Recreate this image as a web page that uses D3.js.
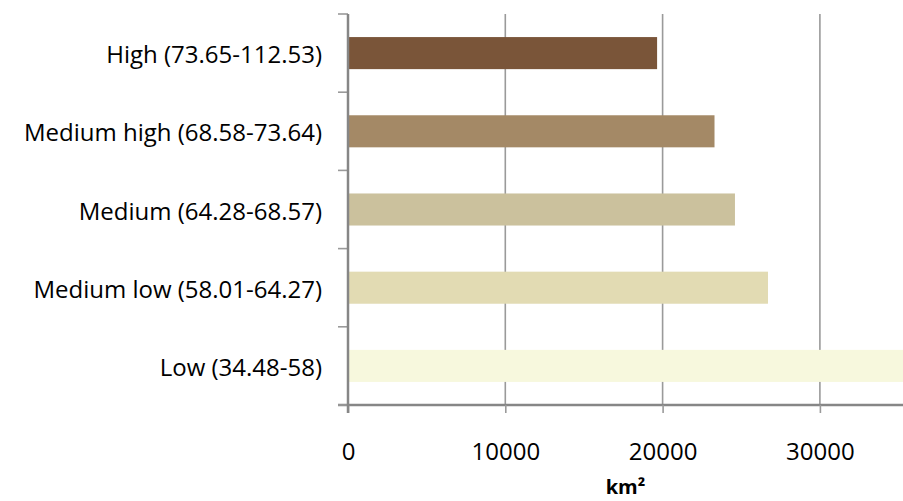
<!DOCTYPE html>
<html>
<head>
<meta charset="utf-8">
<script src="https://cdn.jsdelivr.net/npm/d3@7"></script>
<style>
  html, body { margin: 0; padding: 0; background: #fff; }
  svg { display: block; }
  text { font-family: "Open Sans", sans-serif; fill: #000; }
</style>
</head>
<body>
<svg id="chart" width="903" height="501"></svg>
<script>
const categories = [
  "High (73.65-112.53)",
  "Medium high (68.58-73.64)",
  "Medium (64.28-68.57)",
  "Medium low (58.01-64.27)",
  "Low (34.48-58)"
];
const values = [19650, 23300, 24600, 26700, 36000];
const colors = ["#7a5539", "#a48966", "#cbc19d", "#e2dbb3", "#f7f8dd"];
const xTicks = [0, 10000, 20000, 30000];
const axisTitle = "km²";

(function () {
const svg = d3.select("#chart");
const W = 903, H = 501;
const mLeft = 348, mTop = 14, mBottom = 405;
const FONT = "'Open Sans', sans-serif";

const x = d3.scaleLinear().domain([0, 40000]).range([mLeft, mLeft + 4 * 157.3]);
const y = d3.scaleBand().domain(categories).range([mTop, mBottom]).paddingInner(0.59).paddingOuter(0.295);

// gridlines
svg.append("g").selectAll("line").data(xTicks.filter(d => d > 0)).join("line")
  .attr("x1", d => x(d)).attr("x2", d => x(d))
  .attr("y1", mTop).attr("y2", mBottom)
  .attr("stroke", "#9a9a9a").attr("stroke-width", 1.6);

// bars
svg.append("g").selectAll("rect").data(categories).join("rect")
  .attr("x", x(0))
  .attr("y", d => y(d))
  .attr("width", (d, i) => x(values[i]) - x(0))
  .attr("height", y.bandwidth())
  .attr("fill", (d, i) => colors[i]);

// x axis
const xAxis = svg.append("g").attr("transform", `translate(0,${mBottom})`)
  .call(d3.axisBottom(x).tickValues(xTicks).tickFormat(d3.format("d")).tickSize(8).tickSizeOuter(0));
xAxis.select(".domain").attr("stroke", "#868686").attr("stroke-width", 2.5)
  .attr("d", `M${mLeft - 10},0H${W}`);
xAxis.selectAll(".tick line").attr("stroke", "#9a9a9a").attr("stroke-width", 1.6);
xAxis.selectAll(".tick text")
  .attr("font-size", 24).attr("font-family", FONT).attr("fill", "#000")
  .attr("y", 55).attr("dy", null);

// y axis
const yBoundaries = d3.range(categories.length + 1).map(i => mTop + i * (mBottom - mTop) / categories.length);
svg.append("g").selectAll("line").data(yBoundaries).join("line")
  .attr("x1", mLeft - 10).attr("x2", mLeft)
  .attr("y1", d => d).attr("y2", d => d)
  .attr("stroke", "#9a9a9a").attr("stroke-width", 1.6);
svg.append("line")
  .attr("x1", mLeft).attr("x2", mLeft).attr("y1", mTop).attr("y2", mBottom + 8)
  .attr("stroke", "#868686").attr("stroke-width", 2.5);

// y labels
svg.append("g").selectAll("text").data(categories).join("text")
  .attr("x", 322)
  .attr("y", d => y(d) + y.bandwidth() / 2 + 10)
  .attr("text-anchor", "end")
  .attr("font-size", 24)
  .text(d => d);

// axis title
svg.append("text")
  .attr("x", (mLeft + W) / 2)
  .attr("y", 494)
  .attr("text-anchor", "middle")
  .attr("font-size", 20)
  .attr("font-weight", "bold")
  .text(axisTitle);
})();
</script>
</body>
</html>
